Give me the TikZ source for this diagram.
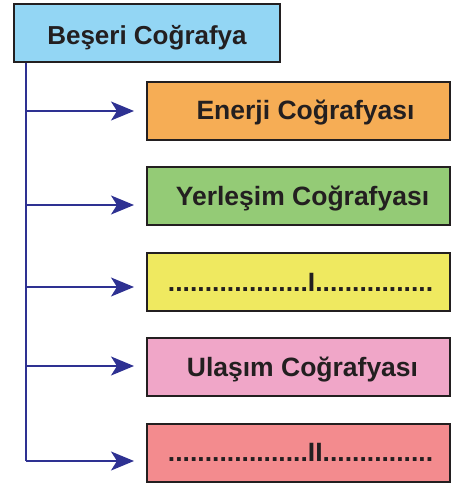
\documentclass[tikz,border=0pt]{standalone}
\usepackage{fontspec}
\setmainfont{Liberation Sans}
\usetikzlibrary{arrows.meta}
\definecolor{ink}{HTML}{231F20}
\definecolor{arrowblue}{HTML}{2E3192}
\definecolor{cblue}{HTML}{93D6F4}
\definecolor{corange}{HTML}{F6AD55}
\definecolor{cgreen}{HTML}{94CB76}
\definecolor{cyellow}{HTML}{EFE960}
\definecolor{cpink}{HTML}{F0A6C8}
\definecolor{cred}{HTML}{F38B8E}
\newcommand{\pushr}[1]{\hspace*{#1}}
\tikzset{
  box/.style={draw=ink, line width=2pt, rectangle, inner sep=0pt,
    minimum height=58pt, text=ink, text height=18pt, text depth=0pt,
    font=\fontsize{26.5}{30}\selectfont\bfseries},
  subbox/.style={box, minimum width=303pt},
  link/.style={draw=arrowblue, line width=1.8pt},
  arr/.style={link, -{Stealth[length=23pt,width=19pt,inset=6pt]}, shorten >=12pt}
}
\begin{document}
\begin{tikzpicture}[x=1pt,y=-1pt]
\useasboundingbox (0,0) rectangle (451,484);
\node[box, fill=cblue, minimum width=266pt, font=\fontsize{26}{30}\selectfont\bfseries] (top) at (147,33) {\raisebox{-3pt}{Beşeri Coğrafya}};
\node[subbox, fill=corange] (b1) at (298.5,111) {\pushr{14pt}Enerji Coğrafyası};
\node[subbox, fill=cgreen] (b2) at (298.5,196) {\pushr{8pt}Yerleşim Coğrafyası};
\node[subbox, fill=cyellow] (b3) at (298.5,282) {\pushr{4pt}...................I................};
\node[subbox, fill=cpink] (b4) at (298.5,367) {\pushr{8pt}Ulaşım Coğrafyası};
\node[subbox, fill=cred] (b5) at (298.5,452.5) {\pushr{4pt}...................II...............};
\coordinate (t1) at (26,111);
\coordinate (t2) at (26,205);
\coordinate (t3) at (26,287);
\coordinate (t4) at (26,366);
\coordinate (t5) at (26,461);
\draw[link] (top.south -| t1) -- (t5);
\draw[arr] (t1) -- (t1 -| b1.west);
\draw[arr] (t2) -- (t2 -| b2.west);
\draw[arr] (t3) -- (t3 -| b3.west);
\draw[arr] (t4) -- (t4 -| b4.west);
\draw[arr] (t5) -- (t5 -| b5.west);
\end{tikzpicture}
\end{document}
